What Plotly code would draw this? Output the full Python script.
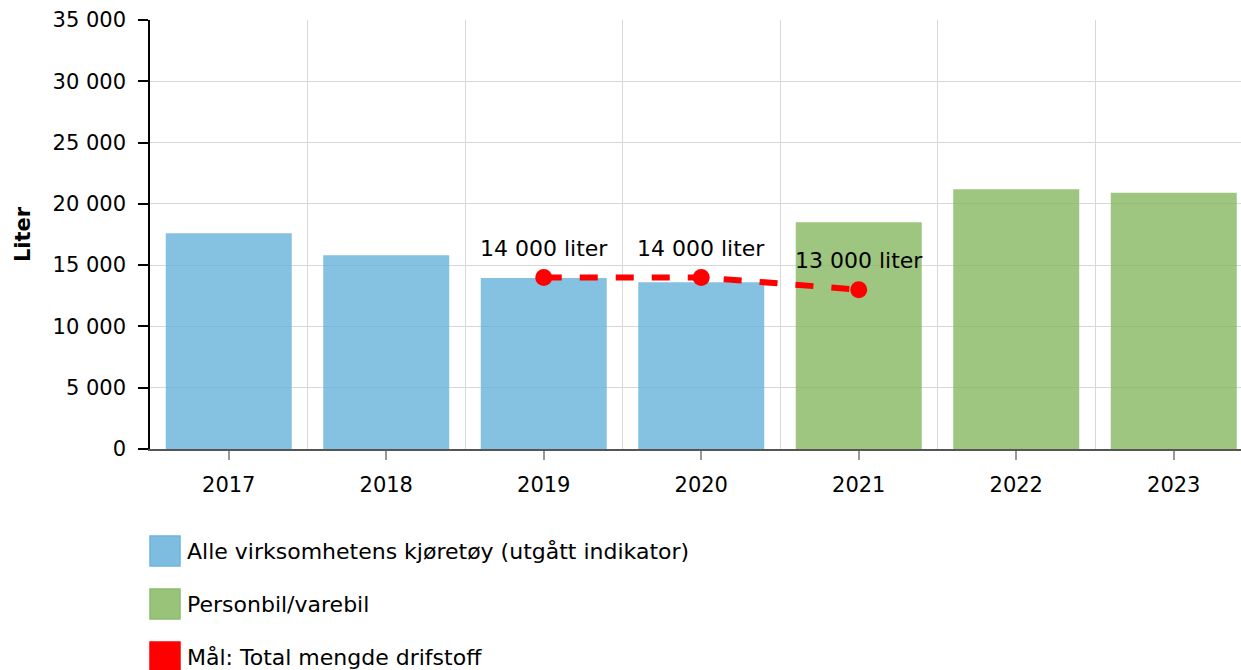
import plotly.graph_objects as go

years = ["2017", "2018", "2019", "2020", "2021", "2022", "2023"]
alle_kjoretoy = [17600, 15800, 13950, 13600, None, None, None]
personbil_varebil = [None, None, None, None, 18500, 21200, 20900]
maal_years_idx = [2, 3, 4]
maal_values = [14000, 14000, 13000]
y_ticks = [0, 5000, 10000, 15000, 20000, 25000, 30000, 35000]

names = [
    "Alle virksomhetens kjøretøy (utgått indikator)",
    "Personbil/varebil",
    "Mål: Total mengde drifstoff",
]
fills = ["rgba(103,178,218,0.8)", "rgba(134,184,96,0.8)", "#ff0000"]
borders = ["#6cb4dc", "#8cbc6c", "#ff0000"]

FONT = "DejaVu Sans"
FS = 21
FS_TXT = 22
x_idx = list(range(len(years)))

fig = go.Figure()
fig.add_trace(go.Bar(x=x_idx, y=alle_kjoretoy, width=0.8, marker=dict(color=fills[0], line=dict(width=0)),
                     name=names[0], showlegend=False))
fig.add_trace(go.Bar(x=x_idx, y=personbil_varebil, width=0.8, marker=dict(color=fills[1], line=dict(width=0)),
                     name=names[1], showlegend=False))
fig.add_trace(go.Scatter(x=maal_years_idx, y=maal_values, mode="lines+markers",
                         line=dict(color="#ff0000", width=6, dash="18px,18px"),
                         marker=dict(size=17, color="#ff0000"),
                         name=names[2], showlegend=False, cliponaxis=False))
for xi, v in zip(maal_years_idx, maal_values):
    fig.add_annotation(x=xi, y=v, text=f"{v:,}".replace(",", " ") + " liter", showarrow=False,
                       yshift=29, font=dict(family=FONT, size=FS_TXT, color="#000"))

# Manual legend (large swatches) below the plot area
plot_h = 429.0
plot_w = 1091.0
legend_rows_px = [551, 604, 657]
for i, (nm, fc, bc) in enumerate(zip(names, fills, borders)):
    yc = (449 - legend_rows_px[i]) / plot_h
    fig.add_shape(type="rect", xref="paper", yref="paper",
                  x0=0, x1=30 / plot_w, y0=yc - 15 / plot_h, y1=yc + 15 / plot_h,
                  fillcolor=fc if i == 2 else fc.replace("0.8)", "0.85)"), line=dict(color=bc, width=1.5))
    fig.add_annotation(xref="paper", yref="paper", x=35 / plot_w, y=yc, text=nm, showarrow=False,
                       xanchor="left", yanchor="middle", font=dict(family=FONT, size=FS_TXT, color="#000"))

fig.update_layout(
    width=1241, height=670,
    margin=dict(l=150, r=0, t=20, b=221),
    barmode="overlay",
    plot_bgcolor="white", paper_bgcolor="white",
    font=dict(family=FONT, size=FS, color="#000"),
    separators=", ",
    showlegend=False,
    hovermode=False,
)
fig.update_xaxes(
    range=[-0.5, 6.427], tickmode="array", tickvals=x_idx, ticktext=years,
    ticks="outside", ticklen=9, tickcolor="#999", tickwidth=1.5, ticklabelstandoff=7,
    showgrid=False, zeroline=False,
    showline=True, linecolor="#555", linewidth=1.5,
    minor=dict(tickmode="linear", tick0=0.5, dtick=1, showgrid=True, gridcolor="#d8d8d8", gridwidth=1, ticks=""),
    tickfont=dict(family=FONT, size=FS, color="#000"),
)
fig.update_yaxes(
    range=[0, 35000], tickmode="array", tickvals=y_ticks, tickformat=",d",
    ticks="outside", ticklen=10, tickcolor="#000", tickwidth=1.5, ticklabelstandoff=8,
    showgrid=True, gridcolor="#d8d8d8", gridwidth=1, zeroline=False,
    showline=True, linecolor="#000", linewidth=1.5,
    tickfont=dict(family=FONT, size=FS, color="#000"),
    title=dict(text="<b>Liter</b>", font=dict(family=FONT, size=FS, color="#000"), standoff=16),
)

# remove the default page margin so the 1241x670 figure fills the window exactly
fig.write_html("out.html", config={"displayModeBar": False},
               post_script="document.body.style.margin='0';document.body.style.overflow='hidden';")
